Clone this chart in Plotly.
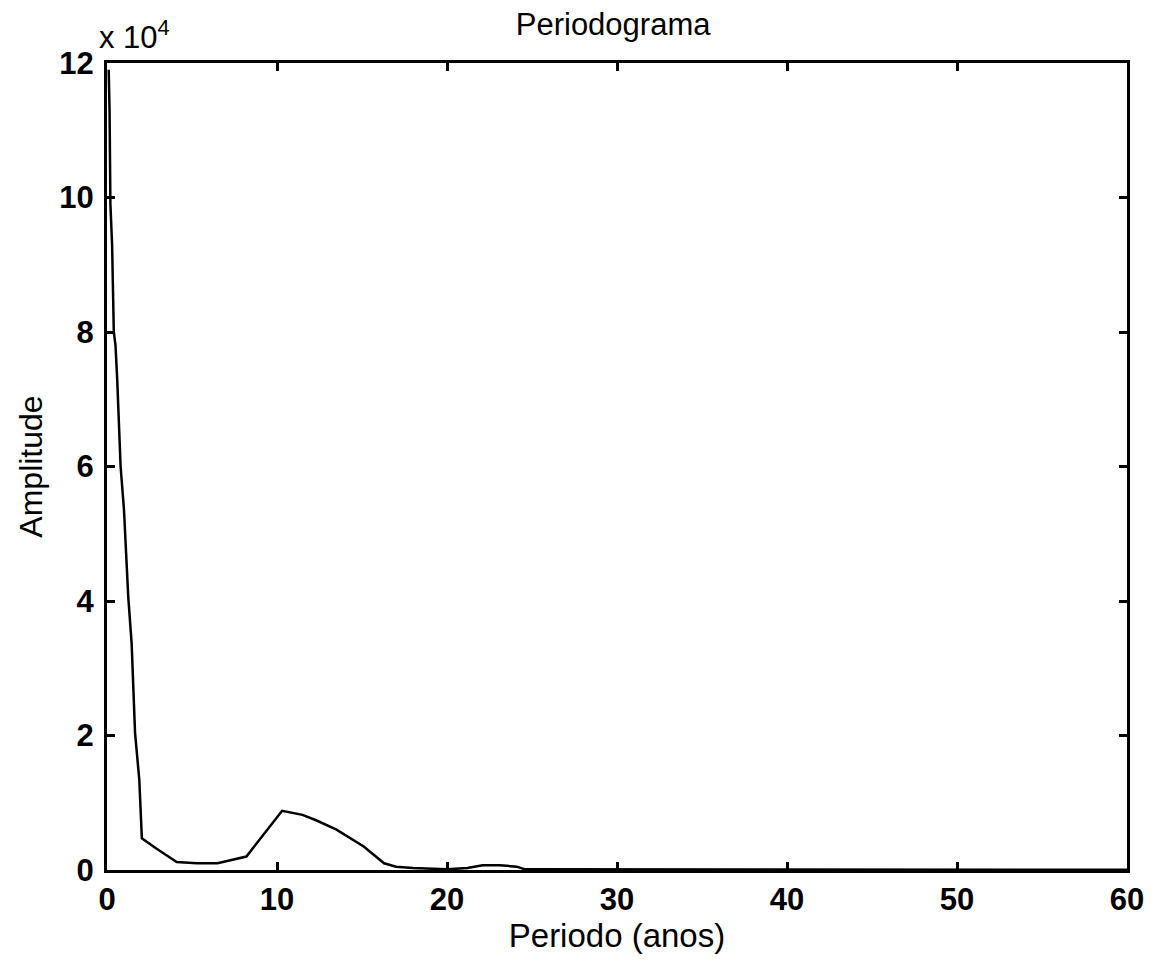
import plotly.graph_objects as go

# periodo (anos) vs amplitude
periodo = [0.1, 0.15, 0.2, 0.3, 0.4, 0.5, 0.6, 0.8, 1.0, 1.25, 1.45, 1.65, 1.9, 2.05,
           2.9, 4.1, 5.3, 6.5, 8.2, 10.3, 11.5, 12.3, 13.5, 15.1, 16.3, 17.0, 18.0,
           20.0, 21.2, 22.1, 23.1, 24.1, 24.6, 30.0, 40.0, 50.0, 60.0]
amplitude = [119000, 113000, 99000, 93000, 80000, 78000, 73000, 60000, 53500, 40600,
             33700, 20400, 13400, 4700, 3200, 1200, 1000, 1000, 2000, 8800, 8200,
             7400, 6000, 3500, 1000, 500, 300, 100, 300, 700, 700, 500, 100, 100,
             50, 30, 20]

x_ticks = [0, 10, 20, 30, 40, 50, 60]
y_ticks = [0, 20000, 40000, 60000, 80000, 100000, 120000]
y_ticklabels = ["0", "2", "4", "6", "8", "10", "12"]

FONT = "Liberation Sans"

fig = go.Figure()
fig.add_trace(go.Scatter(x=periodo, y=amplitude, mode="lines",
                         line=dict(color="black", width=2.5), showlegend=False))

axis_style = dict(showline=True, linecolor="black", linewidth=3, mirror="allticks",
                  ticks="inside", ticklen=8, tickwidth=3, tickcolor="black",
                  showgrid=False, zeroline=False,
                  tickfont=dict(family=FONT, size=31, color="black", weight="bold"))

fig.update_xaxes(range=[0, 60], tickvals=x_ticks, **axis_style,
                 title=dict(text="Periodo (anos)", standoff=6,
                            font=dict(family=FONT, size=33, color="black")))
fig.update_yaxes(range=[0, 120000], tickvals=y_ticks, ticktext=y_ticklabels, **axis_style,
                 ticklabelstandoff=4,
                 title=dict(text="Amplitude", standoff=8,
                            font=dict(family=FONT, size=32, color="black")))

# MATLAB style exponent label above the y axis
fig.add_annotation(x=0, y=1, xref="paper", yref="paper", xanchor="left", yanchor="bottom",
                   xshift=-10, yshift=6, showarrow=False,
                   text="x 10<sup>4</sup>",
                   font=dict(family=FONT, size=31, color="black"))

# page has an 8px body margin, so margins are shifted by that amount
fig.update_layout(
    width=1157, height=965,
    margin=dict(l=99, r=38, t=55, b=103),
    paper_bgcolor="white", plot_bgcolor="white",
    title=dict(text="Periodograma", x=0.523, xanchor="center", y=0.995, yanchor="top",
               font=dict(family=FONT, size=31, color="black")),
)

fig.write_html("out.html")
